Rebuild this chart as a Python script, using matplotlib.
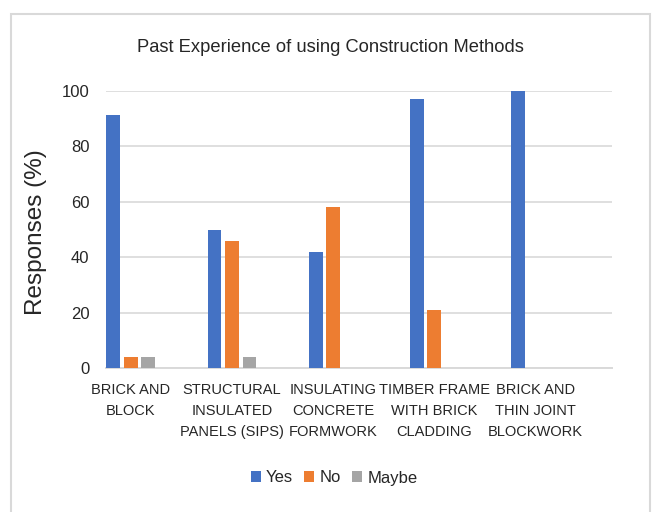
import numpy as np
import matplotlib.pyplot as plt
from matplotlib.patches import Rectangle

plt.rcParams['font.family'] = ['Liberation Sans', 'DejaVu Sans']

categories = ['BRICK AND\nBLOCK', 'STRUCTURAL\nINSULATED\nPANELS (SIPS)', 'INSULATING\nCONCRETE\nFORMWORK',
              'TIMBER FRAME\nWITH BRICK\nCLADDING', 'BRICK AND\nTHIN JOINT\nBLOCKWORK']
yes = [91.5, 50, 42, 97, 100]
no = [4, 46, 58, 21, 0]
maybe = [4, 4, 0, 0, 0]

series = [('Yes', yes, '#4472C4'), ('No', no, '#ED7D31'), ('Maybe', maybe, '#A5A5A5')]

W, H = 652, 512
fig = plt.figure(figsize=(W / 100, H / 100), dpi=100)
ax = fig.add_axes([106 / W, 1 - 368 / H, 506 / W, 277 / H])

x = np.arange(len(categories))
w = 0.138
step = 0.173
for i, (name, vals, col) in enumerate(series):
    ax.bar(x + (i - 1) * step, vals, width=w, color=col, label=name, zorder=3)

# the bar groups sit at the left of each category band (as in the Excel original)
left = -step - w / 2 - 0.003
ax.set_xlim(left, left + len(categories))
ax.set_ylim(0, 100)
ax.set_yticks([0, 20, 40, 60, 80, 100])
ax.grid(axis='y', color='#D9D9D9', linewidth=1.2, zorder=0)
for s in ['top', 'right', 'left']:
    ax.spines[s].set_visible(False)
ax.spines['bottom'].set_color('#D9D9D9')
ax.spines['bottom'].set_linewidth(1.4)
ax.tick_params(length=0, labelsize=12, colors='#262626')
ax.tick_params(axis='y', pad=12)
ax.tick_params(axis='x', pad=11)
ax.set_xticks(x)
ax.set_xticklabels(categories, fontsize=10.5, linespacing=1.62)
ax.set_ylabel('Responses (%)', fontsize=17.5, color='#262626')
ax.yaxis.set_label_coords(47 / W, 1 - 232 / H, transform=fig.transFigure)

fig.text(330 / W, 1 - 47 / H, 'Past Experience of using Construction Methods', fontsize=13.2,
         ha='center', va='center', color='#262626')

fig.legend(loc='center', bbox_to_anchor=(334 / W, 1 - 478 / H), ncol=3, frameon=False,
           fontsize=12, handlelength=0.6, handleheight=0.6, handletextpad=0.3, columnspacing=0.7,
           labelcolor='#262626')

fig.patches.append(Rectangle((11 / W, -0.1), 639 / W, 1.1 - 14 / H, transform=fig.transFigure,
                             fill=False, edgecolor='#D9D9D9', linewidth=1.5))

fig.savefig('out.png', dpi=100)
